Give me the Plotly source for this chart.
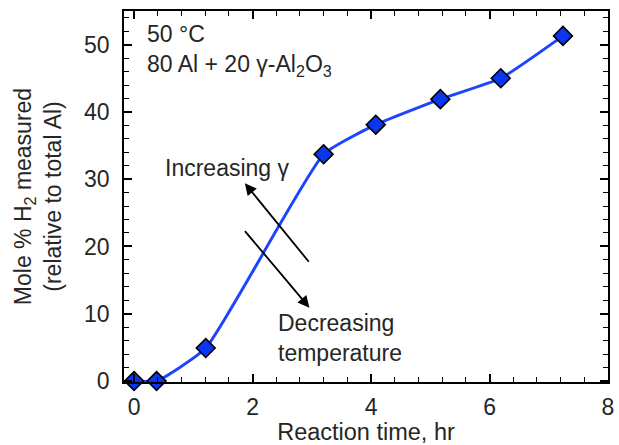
import plotly.graph_objects as go

# Measured hydrogen evolution, 80 Al + 20 gamma-Al2O3 at 50 C
time_hr = [0.0, 0.38, 1.21, 3.2, 4.08, 5.17, 6.19, 7.24]
h2_mole_pct = [0.0, 0.0, 4.9, 33.7, 38.1, 41.9, 45.0, 51.3]

x_ticks = [0, 2, 4, 6, 8]
y_ticks = [0, 10, 20, 30, 40, 50]

FONT = "Liberation Sans, Arial, sans-serif"
TEXT = "#262626"
FS = 23

fig = go.Figure()
fig.add_trace(go.Scatter(
    x=time_hr, y=h2_mole_pct,
    mode="lines+markers",
    line=dict(color="#1d44ff", width=3, shape="spline", smoothing=0.45),
    marker=dict(symbol="diamond", size=14.5, color="#0a36f0",
                line=dict(color="black", width=1.6)),
    cliponaxis=False,
    showlegend=False,
))

axis_common = dict(
    showline=True, linecolor="black", linewidth=1.5, mirror="allticks",
    ticks="inside", ticklen=8, tickwidth=1.5, tickcolor="black",
    showgrid=False, zeroline=False,
    tickfont=dict(family=FONT, size=FS, color=TEXT),
)

fig.update_xaxes(
    range=[-0.17, 8.0], tickvals=x_ticks,
    minor=dict(dtick=0.4, tick0=0, ticks="inside", ticklen=5, tickwidth=1.2, tickcolor="black"),
    title=dict(text="Reaction time, hr", font=dict(family=FONT, size=23.5, color=TEXT), standoff=2),
    ticklabelstandoff=4,
    **axis_common,
)
fig.update_yaxes(
    range=[-0.15, 55], tickvals=y_ticks,
    minor=dict(dtick=2, tick0=0, ticks="inside", ticklen=5, tickwidth=1.2, tickcolor="black"),
    title=dict(text="Mole % H<sub>2</sub> measured<br>(relative to total Al)",
               font=dict(family=FONT, size=FS, color=TEXT), standoff=16),
    ticklabelstandoff=8,
    **axis_common,
)

# Condition labels
fig.add_annotation(x=0.18, y=49.2, xref="x", yref="y", xanchor="left", yanchor="middle",
                   text="50 °C<br>80 Al + 20 γ-Al<sub>2</sub>O<sub>3</sub>", showarrow=False,
                   align="left", font=dict(family=FONT, size=FS, color=TEXT))

# Trend arrows
fig.add_annotation(x=1.87, y=29.4, ax=2.97, ay=17.5, xref="x", yref="y", axref="x", ayref="y",
                   text="", showarrow=True, arrowhead=2, arrowsize=1.3, arrowwidth=1.8,
                   arrowcolor="black")
fig.add_annotation(x=2.96, y=10.9, ax=1.85, ay=22.5, xref="x", yref="y", axref="x", ayref="y",
                   text="", showarrow=True, arrowhead=2, arrowsize=1.3, arrowwidth=1.8,
                   arrowcolor="black")
fig.add_annotation(x=0.48, y=31.7, xref="x", yref="y", xanchor="left", yanchor="middle",
                   text="Increasing γ", showarrow=False,
                   font=dict(family=FONT, size=FS, color=TEXT))
fig.add_annotation(x=2.4, y=6.4, xref="x", yref="y", xanchor="left", yanchor="middle",
                   text="Decreasing<br>temperature", showarrow=False, align="left",
                   font=dict(family=FONT, size=FS, color=TEXT))

fig.update_layout(
    width=619, height=445,
    margin=dict(l=124, r=5, t=11, b=63),
    paper_bgcolor="white", plot_bgcolor="white",
    font=dict(family=FONT, size=FS, color=TEXT),
)

fig.write_html("out.html")
